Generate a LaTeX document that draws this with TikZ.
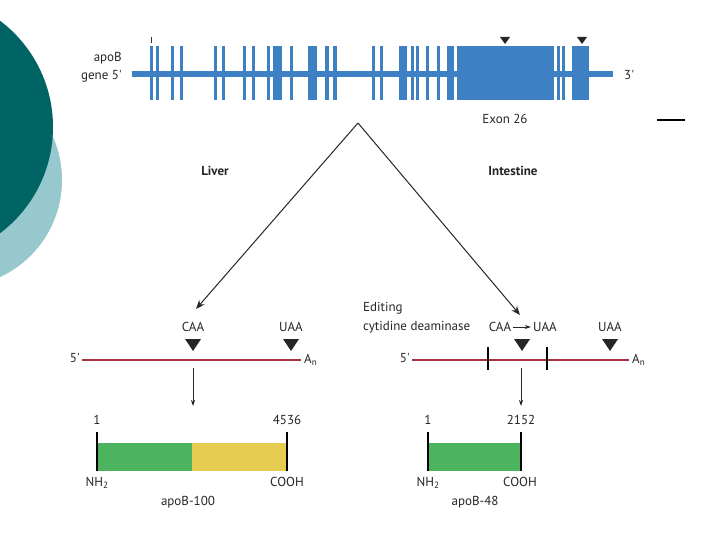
\documentclass[tikz,border=0pt]{standalone}
\usepackage{fontspec}
\setmainfont{PT Sans}
\usetikzlibrary{arrows.meta,calc}
\definecolor{genecol}{RGB}{61,128,196}
\definecolor{darkteal}{RGB}{0,100,100}
\definecolor{lightteal}{RGB}{150,200,205}
\definecolor{mrnacol}{RGB}{165,50,60}
\definecolor{protgreen}{RGB}{76,180,94}
\definecolor{protyellow}{RGB}{230,205,82}
\tikzset{
  lbl/.style={font=\fontsize{13}{15}\selectfont, inner sep=0pt, text=black!85},
  bold/.style={lbl, font=\fontsize{13}{15}\selectfont\bfseries},
  forkarrow/.style={draw=black!85, line width=1pt, -{Stealth[length=9pt,width=7pt]}},
  downarrow/.style={draw=black!85, line width=0.8pt, -{Stealth[length=6pt,width=4pt]}},
  mrna/.style={draw=mrnacol, line width=1.6pt},
  endline/.style={draw=black, line width=1.5pt},
  stop/.style={fill=black!85}
}
\begin{document}
\begin{tikzpicture}[x=1pt,y=-1pt]
\useasboundingbox (0,0) rectangle (720,540);
\fill[white] (0,0) rectangle (720,540);
\begin{scope}
\clip (0,0) rectangle (720,540);
\fill[lightteal] (-45,180) circle (107pt);
\fill[darkteal] (-80,127) circle (133pt);
\end{scope}

% gene
\fill[genecol] (132,71) rectangle (613,77);
\foreach \a/\b in {150/153,156/159,171/174,180/183,214/217,222/225,243/246,252/255,267/270,273/282,290/293,308/317,325/329,333/337,372/375,380/383,399/407,411/414,416/419,426/429,437/440,447/454,457/554,557/560,562/565,572/589}
  \fill[genecol] (\a,46) rectangle (\b,100);
\draw[black!80, line width=1pt] (151,37) -- (151,43);
\fill[black!85] (500,37) -- (510,37) -- (505,44) -- cycle;
\fill[black!85] (577,37) -- (587,37) -- (582,44) -- cycle;
\node[lbl, anchor=east] (apob) at (122,58) {apoB};
\node[lbl, anchor=east] (gene5) at (122,76) {gene 5\textquotesingle};
\node[lbl, anchor=west] (g3) at (624,75) {3\textquotesingle};
\node[lbl] (exon26) at (505,119) {Exon 26};
\draw[black, line width=1.5pt] (657,120) -- (685,120);

% fork
\coordinate (fork) at (358,123);
\node[bold] (liver) at (215,171) {Liver};
\node[bold] (intestine) at (513,171) {Intestine};
\coordinate (ltip) at (196,309);
\coordinate (rtip) at (520,315);
\draw[forkarrow] (fork) -- (ltip);
\draw[forkarrow] (fork) -- (rtip);

% left mRNA
\coordinate (l5) at (82,360);
\coordinate (lend) at (301,360);
\draw[mrna] (l5) -- (lend);
\node[lbl, anchor=east] (l5lbl) at (80,358) {5\textquotesingle};
\node[lbl, anchor=west] (lan) at (304,360) {A\textsubscript{n}};
\node[lbl] (lcaa) at (193,327) {CAA};
\node[lbl] (luaa) at (291,327) {UAA};
\fill[black!85] (185,339) -- (201,339) -- (193,351) -- cycle;
\fill[black!85] (283,339) -- (299,339) -- (291,351) -- cycle;

% right mRNA
\coordinate (r5) at (412,360);
\coordinate (rend) at (629,360);
\draw[mrna] (r5) -- (rend);
\draw[black, line width=1.2pt] (488,347) -- (488,370);
\draw[black, line width=1.2pt] (547,347) -- (547,370);
\node[lbl, anchor=east] (r5lbl) at (410,358) {5\textquotesingle};
\node[lbl, anchor=west] (ran) at (632,360) {A\textsubscript{n}};
\node[lbl, anchor=west] (editing) at (363,308) {Editing};
\node[lbl, anchor=west] (cytidine) at (363,327) {cytidine deaminase};
\node[lbl] (rcaa) at (500,327) {CAA};
\node[lbl] (ruaa) at (545,327) {UAA};
\draw[downarrow, shorten <=2pt, shorten >=2pt] (rcaa.east) -- (ruaa.west);
\node[lbl] (ruaa2) at (610,327) {UAA};
\fill[black!85] (514,339) -- (530,339) -- (522,351) -- cycle;
\fill[black!85] (602,339) -- (618,339) -- (610,351) -- cycle;

% down arrows
\coordinate (ld1) at (193,368);
\coordinate (ld2) at (193,406);
\coordinate (rd1) at (521,368);
\coordinate (rd2) at (521,406);
\draw[downarrow] (ld1) -- (ld2);
\draw[downarrow] (rd1) -- (rd2);

% apoB-100
\fill[protgreen] (97,443) rectangle (192,471);
\fill[protyellow] (192,443) rectangle (287,471);
\draw[endline] (97,432) -- (97,471);
\draw[endline] (287,432) -- (287,471);
\node[lbl] (one1) at (97,420) {1};
\node[lbl] (n4536) at (287,420) {4536};
\node[lbl] (nh2a) at (97,483) {NH\textsubscript{2}};
\node[lbl] (cooha) at (287,482) {COOH};
\node[lbl] (apob100) at (188,502) {apoB-100};

% apoB-48
\fill[protgreen] (428,443) rectangle (521,471);
\draw[endline] (428,432) -- (428,471);
\draw[endline] (521,432) -- (521,471);
\node[lbl] (one2) at (428,420) {1};
\node[lbl] (n2152) at (521,420) {2152};
\node[lbl] (nh2b) at (428,483) {NH\textsubscript{2}};
\node[lbl] (coohb) at (520,482) {COOH};
\node[lbl] (apob48) at (475,502) {apoB-48};
\end{tikzpicture}
\end{document}
